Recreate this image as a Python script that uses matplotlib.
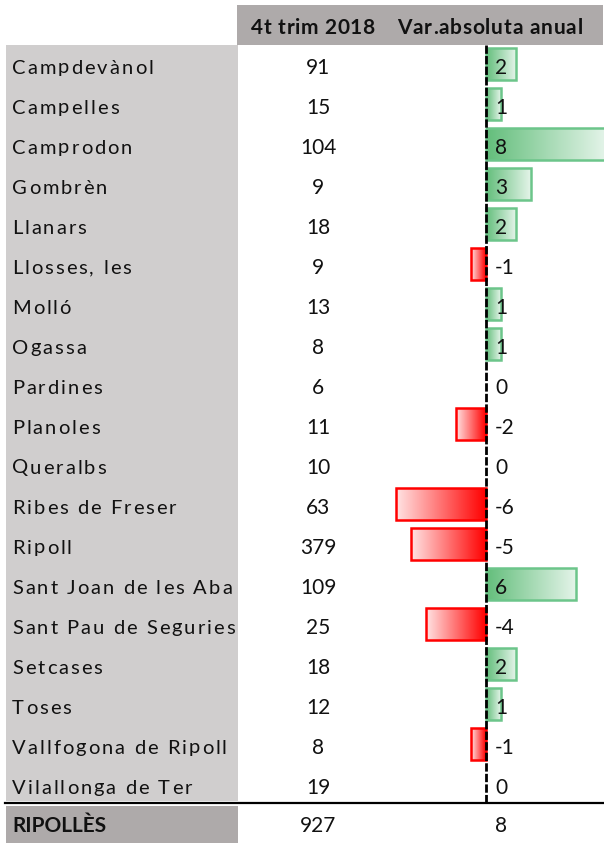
import numpy as np
import matplotlib
matplotlib.use("Agg")
import matplotlib.pyplot as plt
from matplotlib.colors import LinearSegmentedColormap
from matplotlib.font_manager import FontProperties
from matplotlib.textpath import text_to_path

municipis = ["Campdevànol", "Campelles", "Camprodon", "Gombrèn", "Llanars",
             "Llosses, les", "Molló", "Ogassa", "Pardines", "Planoles",
             "Queralbs", "Ribes de Freser", "Ripoll", "Sant Joan de les Aba",
             "Sant Pau de Seguries", "Setcases", "Toses", "Vallfogona de Ripoll",
             "Vilallonga de Ter"]
trim_2018 = [91, 15, 104, 9, 18, 9, 13, 8, 6, 11, 10, 63, 379, 109, 25, 18, 12, 8, 19]
var_anual = [2, 1, 8, 3, 2, -1, 1, 1, 0, -2, 0, -6, -5, 6, -4, 2, 1, -1, 0]
total_label = "RIPOLLÈS"
total_trim = 927
total_var = 8
headers = ["4t trim 2018", "Var.absoluta anual"]

W, H = 604, 843
DPI = 100
fig = plt.figure(figsize=(W / DPI, H / DPI), dpi=DPI)
ax = fig.add_axes([0, 0, 1, 1])
px_unit = 15.0
x0 = 486.0
XL = (-x0 / px_unit, (W - x0) / px_unit)
YL = ((H - 68) / 40.0, -68 / 40.0)
ax.set_xlim(*XL)
ax.set_ylim(*YL)
ax.axis("off")

def fx(px):
    return px / W

trans = ax.get_yaxis_transform()
font = "Lato"
FS = 14.5
n = len(municipis)
ys = np.arange(n)

def text_w_px(s, prop):
    if not s:
        return 0.0
    w, h, d = text_to_path.get_text_width_height_descent(s, prop, ismath=False)
    return w * DPI / 72.0

def spaced_text(xpx, y, s, spacing_px, ha="left", **kw):
    prop = FontProperties(family=kw.get("family", font), size=kw.get("fontsize", FS),
                          weight=kw.get("fontweight", "normal"))
    total = text_w_px(s, prop) + spacing_px * (len(s) - 1)
    start = xpx if ha == "left" else xpx - total / 2.0
    for k, ch in enumerate(s):
        if ch == " ":
            continue
        xk = start + text_w_px(s[:k], prop) + spacing_px * k
        ax.text(fx(xk), y, ch, transform=trans, ha="left", va="center", **kw)

# backgrounds
ax.add_patch(plt.Rectangle((fx(237), -1.575), fx(603) - fx(237), (45 - 5) / 40.0,
                           transform=trans, facecolor="#aeaaaa", edgecolor="none", zorder=0))
ax.add_patch(plt.Rectangle((fx(6), -0.575), fx(238) - fx(6), (801 - 45) / 40.0,
                           transform=trans, facecolor="#d0cece", edgecolor="none", zorder=0))
ax.add_patch(plt.Rectangle((fx(6), 18.45), fx(238) - fx(6), (843 - 806) / 40.0,
                           transform=trans, facecolor="#aeaaaa", edgecolor="none", zorder=0))

# headers
spaced_text(313, -1.0, headers[0], 0.6, ha="center", fontsize=15, fontweight="bold",
            family=font, color="#111111")
spaced_text(490, -1.0, headers[1], 0.8, ha="center", fontsize=15, fontweight="bold",
            family=font, color="#111111")

# rows
for i, (m, t, v) in enumerate(zip(municipis, trim_2018, var_anual)):
    spaced_text(12, i, m, 2.0, ha="left", fontsize=FS, family=font, color="#111111")
    ax.text(fx(318), i, str(t), transform=trans, ha="center", va="center", fontsize=15,
            family=font, color="#111111")
    ax.text(fx(495), i, str(v), transform=trans, ha="left", va="center", fontsize=15,
            family=font, color="#111111", zorder=5)

# total row
ax.text(fx(12), 18.95, total_label, transform=trans, ha="left", va="center", fontsize=15,
        fontweight="bold", family=font, color="#111111")
ax.text(fx(318), 18.95, str(total_trim), transform=trans, ha="center", va="center",
        fontsize=15, family=font, color="#111111")
ax.text(fx(495), 18.95, str(total_var), transform=trans, ha="left", va="center",
        fontsize=15, family=font, color="#111111")

# separator line
ax.plot([fx(5), fx(604)], [18.38, 18.38], transform=trans, color="black", lw=1.6, zorder=3)

# bars with gradient fills
green_cmap = LinearSegmentedColormap.from_list("g", ["#63be7b", "#e4f4e9"])
red_cmap = LinearSegmentedColormap.from_list("r", ["#ff0000", "#ffe4e4"])
bars = ax.barh(ys - 0.1, var_anual, height=0.78, facecolor="none", zorder=3, linewidth=1.8)
grad = np.linspace(0, 1, 256).reshape(1, -1)
for b, v in zip(bars, var_anual):
    if v == 0:
        b.set_visible(False)
        continue
    x, y, w, h = b.get_x(), b.get_y(), b.get_width(), b.get_height()
    if v > 0:
        b.set_edgecolor("#6cc58a")
        ax.imshow(grad, cmap=green_cmap, aspect="auto", extent=[x, x + w, y + h, y],
                  zorder=2, interpolation="bilinear")
    else:
        b.set_edgecolor("#ff0000")
        ax.imshow(grad, cmap=red_cmap, aspect="auto", extent=[x, x + w, y + h, y],
                  zorder=2, interpolation="bilinear")

ax.set_xlim(*XL)
ax.set_ylim(*YL)

# zero axis dashed line
ax.plot([0, 0], [-0.575, 18.38], color="black", lw=2, linestyle=(0, (3, 0.8)), zorder=4)

fig.savefig("out.png", dpi=DPI, facecolor="white")
